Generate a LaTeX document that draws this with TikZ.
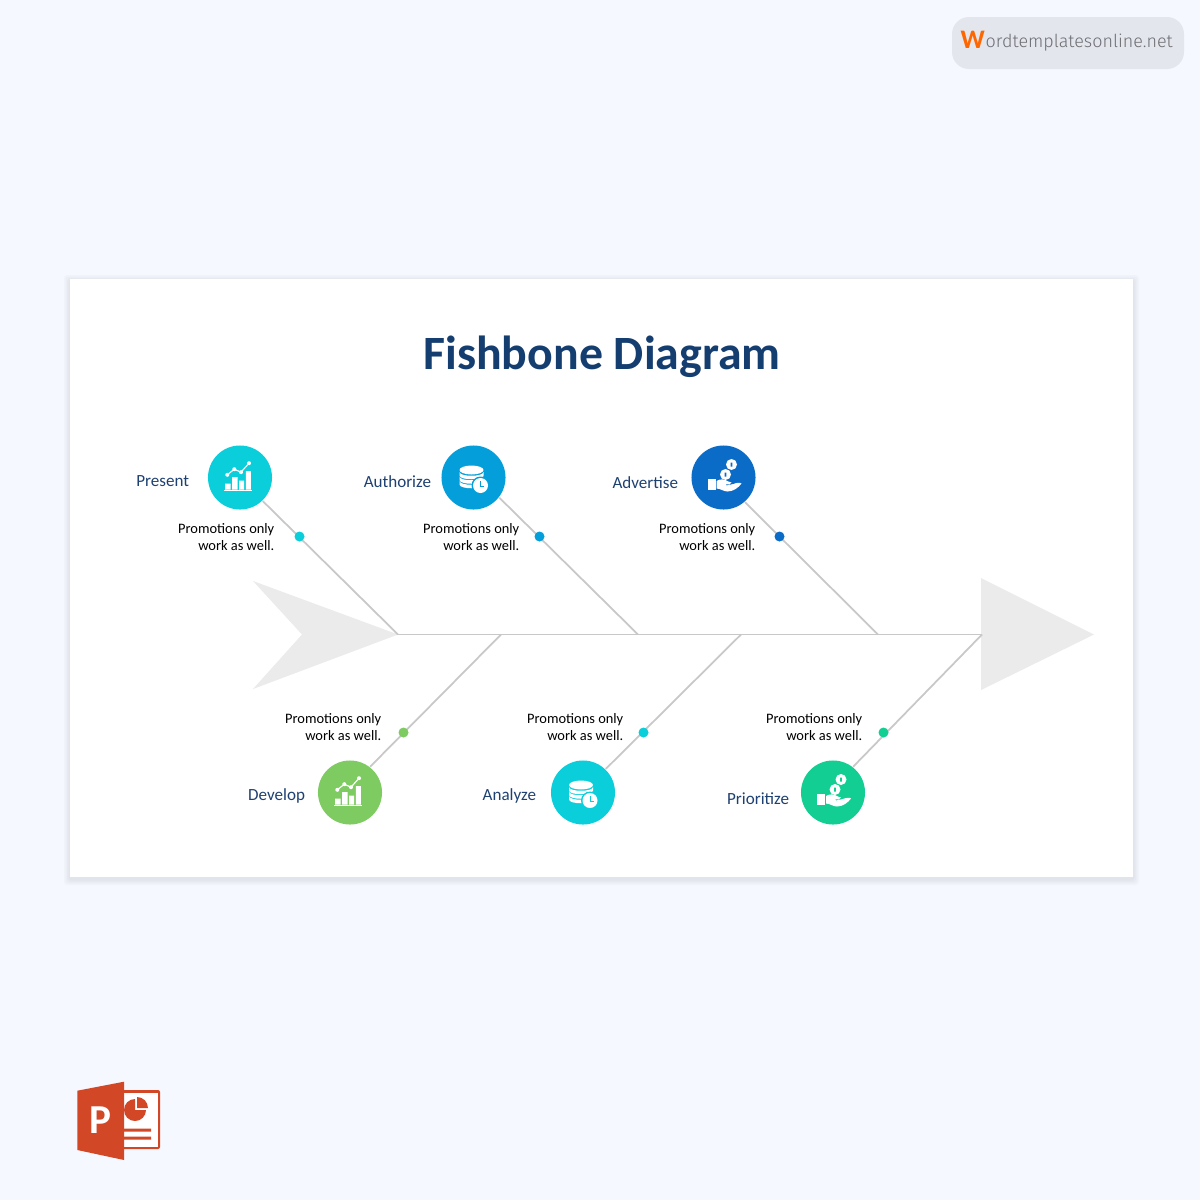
\documentclass[tikz,border=0pt]{standalone}
\usepackage{fontspec}
\setmainfont{Carlito}
\newfontfamily\markfont{Fira Sans Light}
\usetikzlibrary{arrows.meta}
\definecolor{pagebg}{HTML}{F5F8FF}
\definecolor{navy}{HTML}{1F4172}
\definecolor{titleblue}{HTML}{153E70}
\definecolor{bonegray}{HTML}{C8C8C8}
\definecolor{fishgray}{HTML}{EBEBEB}
\definecolor{cyanc}{HTML}{0BCEDB}
\definecolor{bluec}{HTML}{049FDA}
\definecolor{deepc}{HTML}{0B6CC8}
\definecolor{greenc}{HTML}{7ECB62}
\definecolor{tealc}{HTML}{13CE92}
\definecolor{pptred}{HTML}{D24726}
\tikzset{
  bone/.style={draw=bonegray,line width=0.5pt},
  badge/.style={circle,fill=#1,minimum size=0.64cm,inner sep=0pt},
  knot/.style={circle,fill=#1,minimum size=0.1cm,inner sep=0pt},
  tag/.style={text=navy,inner sep=0pt,font=\fontsize{4.85}{5.6}\selectfont},
  note/.style={text=black,inner sep=0pt,align=right,anchor=east,font=\fontsize{4.1}{4.6}\selectfont},
  pics/chart/.style={code={
    \fill[white] (-15,6) rectangle (-9.3,12) (-7.9,-0.5) rectangle (-2.5,12)
      (-0.9,3) rectangle (4.2,12) (5.8,-6.5) rectangle (10.9,12);
    \draw[white,line width=0.25pt] (-16,13) -- (12,13);
    \draw[white,line width=0.32pt] (-12.7,-2.7) -- (-5.7,-8.3) -- (1,-5.3) -- (9,-14.3);
    \fill[white] (-12.7,-2.7) circle (2) (-5.7,-8.3) circle (2) (1,-5.3) circle (2) (9,-14.3) circle (2);
  }},
  pics/dbase/.style={code={
    \fill[white] (-2,-7.5) ellipse [x radius=12,y radius=4.5];
    \foreach \t in {-5.5,-1,3.5}
      \fill[white] (-14,\t) -- (-14,\t+3.5) .. controls (-14,\t+8.5) and (10,\t+8.5) .. (10,\t+3.5)
        -- (10,\t) .. controls (10,\t+5) and (-14,\t+5) .. (-14,\t) -- cycle;
    \fill[#1] (7,8) circle (9);
    \fill[white] (7,8) circle (7.5);
    \draw[#1,line width=0.28pt] (7,3.5) -- (7,8.5) -- (10.5,8.5);
  }},
  pics/coins/.style={code={
    \fill[white] (-15.7,1) rectangle (-8,12);
    \fill[white] (-7,3.5) .. controls (-3,1) and (1,1.5) .. (5,4) -- (8,5)
      .. controls (8,7) and (5,7) .. (2,7) -- (3,8) -- (10,6.5) .. controls (13,5) and (17,5) .. (18,6)
      .. controls (15,10) and (10,14) .. (4,14) .. controls (0,14) and (-3,11) .. (-7,11) -- cycle;
    \fill[white] (8,-13) circle (5.5) (2,-3) circle (5.5);
    \fill[#1] (7.2,-15) rectangle (8.8,-11) (1.2,-5) rectangle (2.8,-1);
  }}
}
\begin{document}
\begin{tikzpicture}[x=0.01cm,y=-0.01cm]
    \useasboundingbox (0,0) rectangle (1200,1200);
    \fill[pagebg] (0,0) rectangle (1200,1200);
    %card
    \foreach \s in {6,4.5,3,1.5}
      \fill[black,opacity=0.018,rounded corners=0.03cm] (70-\s,279-\s+2) rectangle (1133+\s,877+\s+2);
    \fill[white] (70,279) rectangle (1133,877);
    \node[text=titleblue,inner sep=0pt,font=\fontsize{13.6}{15}\selectfont\bfseries] (title) at (602,357) {Fishbone Diagram};
    %tail and head
    \fill[fishgray] (253,581) -- (398,634.5) -- (253,689) -- (302,634.5) -- cycle;
    \fill[fishgray] (981,578) -- (1094,634.5) -- (981,690) -- cycle;
    %spine
    \coordinate (j1) at (398,634.5);
    \coordinate (j2) at (501,634.5);
    \coordinate (j3) at (638,634.5);
    \coordinate (j4) at (741,634.5);
    \coordinate (j5) at (878,634.5);
    \coordinate (j6) at (982,634.5);
    \draw[bone] (j1) -- (j6);
    %circles
    \node[badge=cyanc] (present) at (240,477.5) {};
    \node[badge=bluec] (authorize) at (473.5,477.5) {};
    \node[badge=deepc] (advertise) at (723.5,477.5) {};
    \node[badge=greenc] (develop) at (350,792.5) {};
    \node[badge=cyanc] (analyze) at (583,792.5) {};
    \node[badge=tealc] (prioritize) at (833,792.5) {};
    %bones
    \draw[bone] (present.-46) -- (j1);
    \draw[bone] (authorize.-38) -- (j3);
    \draw[bone] (advertise.-49) -- (j5);
    \draw[bone] (develop.52) -- (j2);
    \draw[bone] (analyze.46) -- (j4);
    \draw[bone] (prioritize.52) -- (j6);
    %dots
    \node[knot=cyanc] (d1) at (299.5,536.5) {};
    \node[knot=bluec] (d2) at (539.5,536.5) {};
    \node[knot=deepc] (d3) at (779.5,536.5) {};
    \node[knot=greenc] (d4) at (403.5,732.5) {};
    \node[knot=cyanc] (d5) at (643.5,732.5) {};
    \node[knot=tealc] (d6) at (883.5,732.5) {};
    %icons
    \pic at (present) {chart};
    \pic at (authorize) {dbase=bluec};
    \pic at (advertise) {coins=deepc};
    \pic at (develop) {chart};
    \pic at (analyze) {dbase=cyanc};
    \pic at (prioritize) {coins=tealc};
    %labels
    \node[tag,anchor=east] (l1) at (189.7,481) {Present};
    \node[tag,anchor=east] (l2) at (431.7,482) {Authorize};
    \node[tag,anchor=east] (l3) at (678.7,483) {Advertise};
    \node[tag,anchor=east] (l4) at (305.7,795.5) {Develop};
    \node[tag,anchor=east] (l5) at (536.7,795.5) {Analyze};
    \node[tag,anchor=east] (l6) at (789.7,799) {Prioritize};
    \node[note] (n1) at (275,537) {Promotions only\\work as well.};
    \node[note] (n2) at (520,537) {Promotions only\\work as well.};
    \node[note] (n3) at (756,537) {Promotions only\\work as well.};
    \node[note] (n4) at (382,727) {Promotions only\\work as well.};
    \node[note] (n5) at (624,727) {Promotions only\\work as well.};
    \node[note] (n6) at (863,727) {Promotions only\\work as well.};
    %watermark
    \fill[fill={rgb,255:red,227;green,230;blue,237},rounded corners=0.17cm] (952,17) rectangle (1184,69);
    \node[inner sep=0pt,anchor=west,text={rgb,255:red,255;green,102;blue,0},font=\fontsize{7.6}{8}\selectfont\bfseries] (markw) at (960,40) {W};
    \node[inner sep=0pt,anchor=west,text={rgb,255:red,110;green,110;blue,115},font=\fontsize{5.1}{6}\markfont] (mark) at (985,43) {ordtemplatesonline.net};
    %ppt logo
    \fill[pptred,rounded corners=0.02cm] (120,1090) rectangle (160,1149);
    \fill[white] (124,1093) rectangle (157.7,1147);
    \fill[pptred] (135,1110) -- (135,1099) arc[start angle=-90,end angle=-360,radius=11] -- cycle;
    \fill[pptred] (137,1108) -- (137,1097) arc[start angle=-90,end angle=0,radius=11] -- cycle;
    \fill[pptred] (124,1128.5) rectangle (151,1131.5) (124,1136.5) rectangle (151,1139.5);
    \fill[pptred] (77.3,1090.7) -- (124,1081.7) -- (124,1160) -- (77.3,1150) -- cycle;
    \node[inner sep=0pt,text=white,font=\fontsize{11.7}{12}\selectfont\bfseries] (pptp) at (100,1120) {P};
\end{tikzpicture}
\end{document}
